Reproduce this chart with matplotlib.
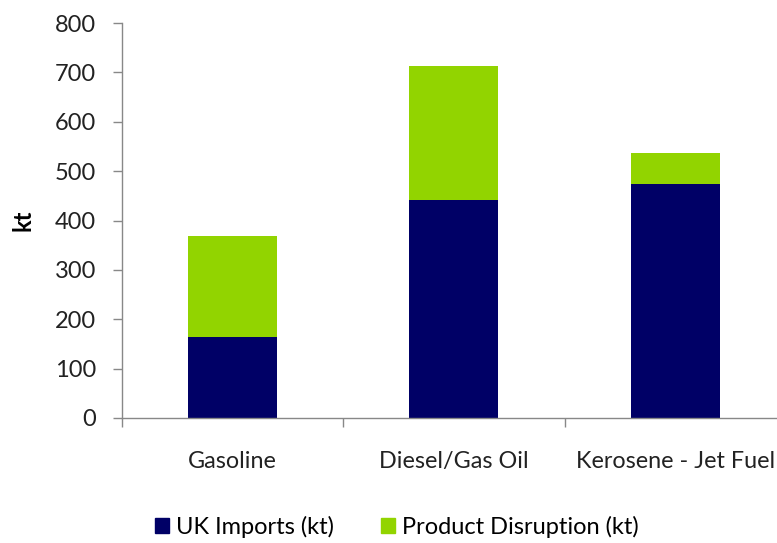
import matplotlib
matplotlib.use("Agg")
import matplotlib.pyplot as plt
from matplotlib.patches import Patch

categories = ["Gasoline", "Diesel/Gas Oil", "Kerosene - Jet Fuel"]
uk_imports = [164, 441, 473]
product_disruption = [204, 272, 64]
series_names = ["UK Imports (kt)", "Product Disruption (kt)"]
colors = ["#000066", "#92D400"]
yticks = [0, 100, 200, 300, 400, 500, 600, 700, 800]

plt.rcParams['font.family'] = ['Lato', 'DejaVu Sans']

fig = plt.figure(figsize=(7.77, 5.43), dpi=100)
ax = fig.add_axes([121.5/777, 125/543, (786-121.5)/777, 395/543])

x = list(range(len(categories)))
ax.bar(x, uk_imports, width=0.4, color=colors[0], zorder=2)
ax.bar(x, product_disruption, width=0.4, bottom=uk_imports, color=colors[1], zorder=2)

ax.set_xlim(-0.5, len(categories) - 0.5)
ax.set_ylim(0, 800)
ax.set_yticks(yticks)
ax.set_yticklabels([str(v) for v in yticks], fontsize=17, color="#222222")

ax.set_xticks(x)
ax.set_xticklabels(categories, fontsize=16.8, color="#222222")
ax.tick_params(axis='x', which='major', length=0, pad=24)
ax.set_xticks([i - 0.5 for i in range(len(categories) + 1)], minor=True)
ax.tick_params(axis='x', which='minor', length=6.5, color="#888888", width=1)
ax.tick_params(axis='y', which='major', length=6.5, color="#888888", width=1, pad=12)

for s in ["top", "right"]:
    ax.spines[s].set_visible(False)
for s in ["left", "bottom"]:
    ax.spines[s].set_color("#888888")
    ax.spines[s].set_linewidth(1)

ax.set_ylabel("kt", fontsize=17, fontweight="bold", labelpad=14)

handles = [Patch(color=c, label=n) for c, n in zip(colors, series_names)]
fig.legend(handles=handles, loc="center", bbox_to_anchor=(397/777, 1 - 527/543),
           ncol=2, frameon=False, fontsize=17, handlelength=0.6, handleheight=0.6,
           handletextpad=0.3, columnspacing=2.0)

fig.savefig("out.png", dpi=100)
